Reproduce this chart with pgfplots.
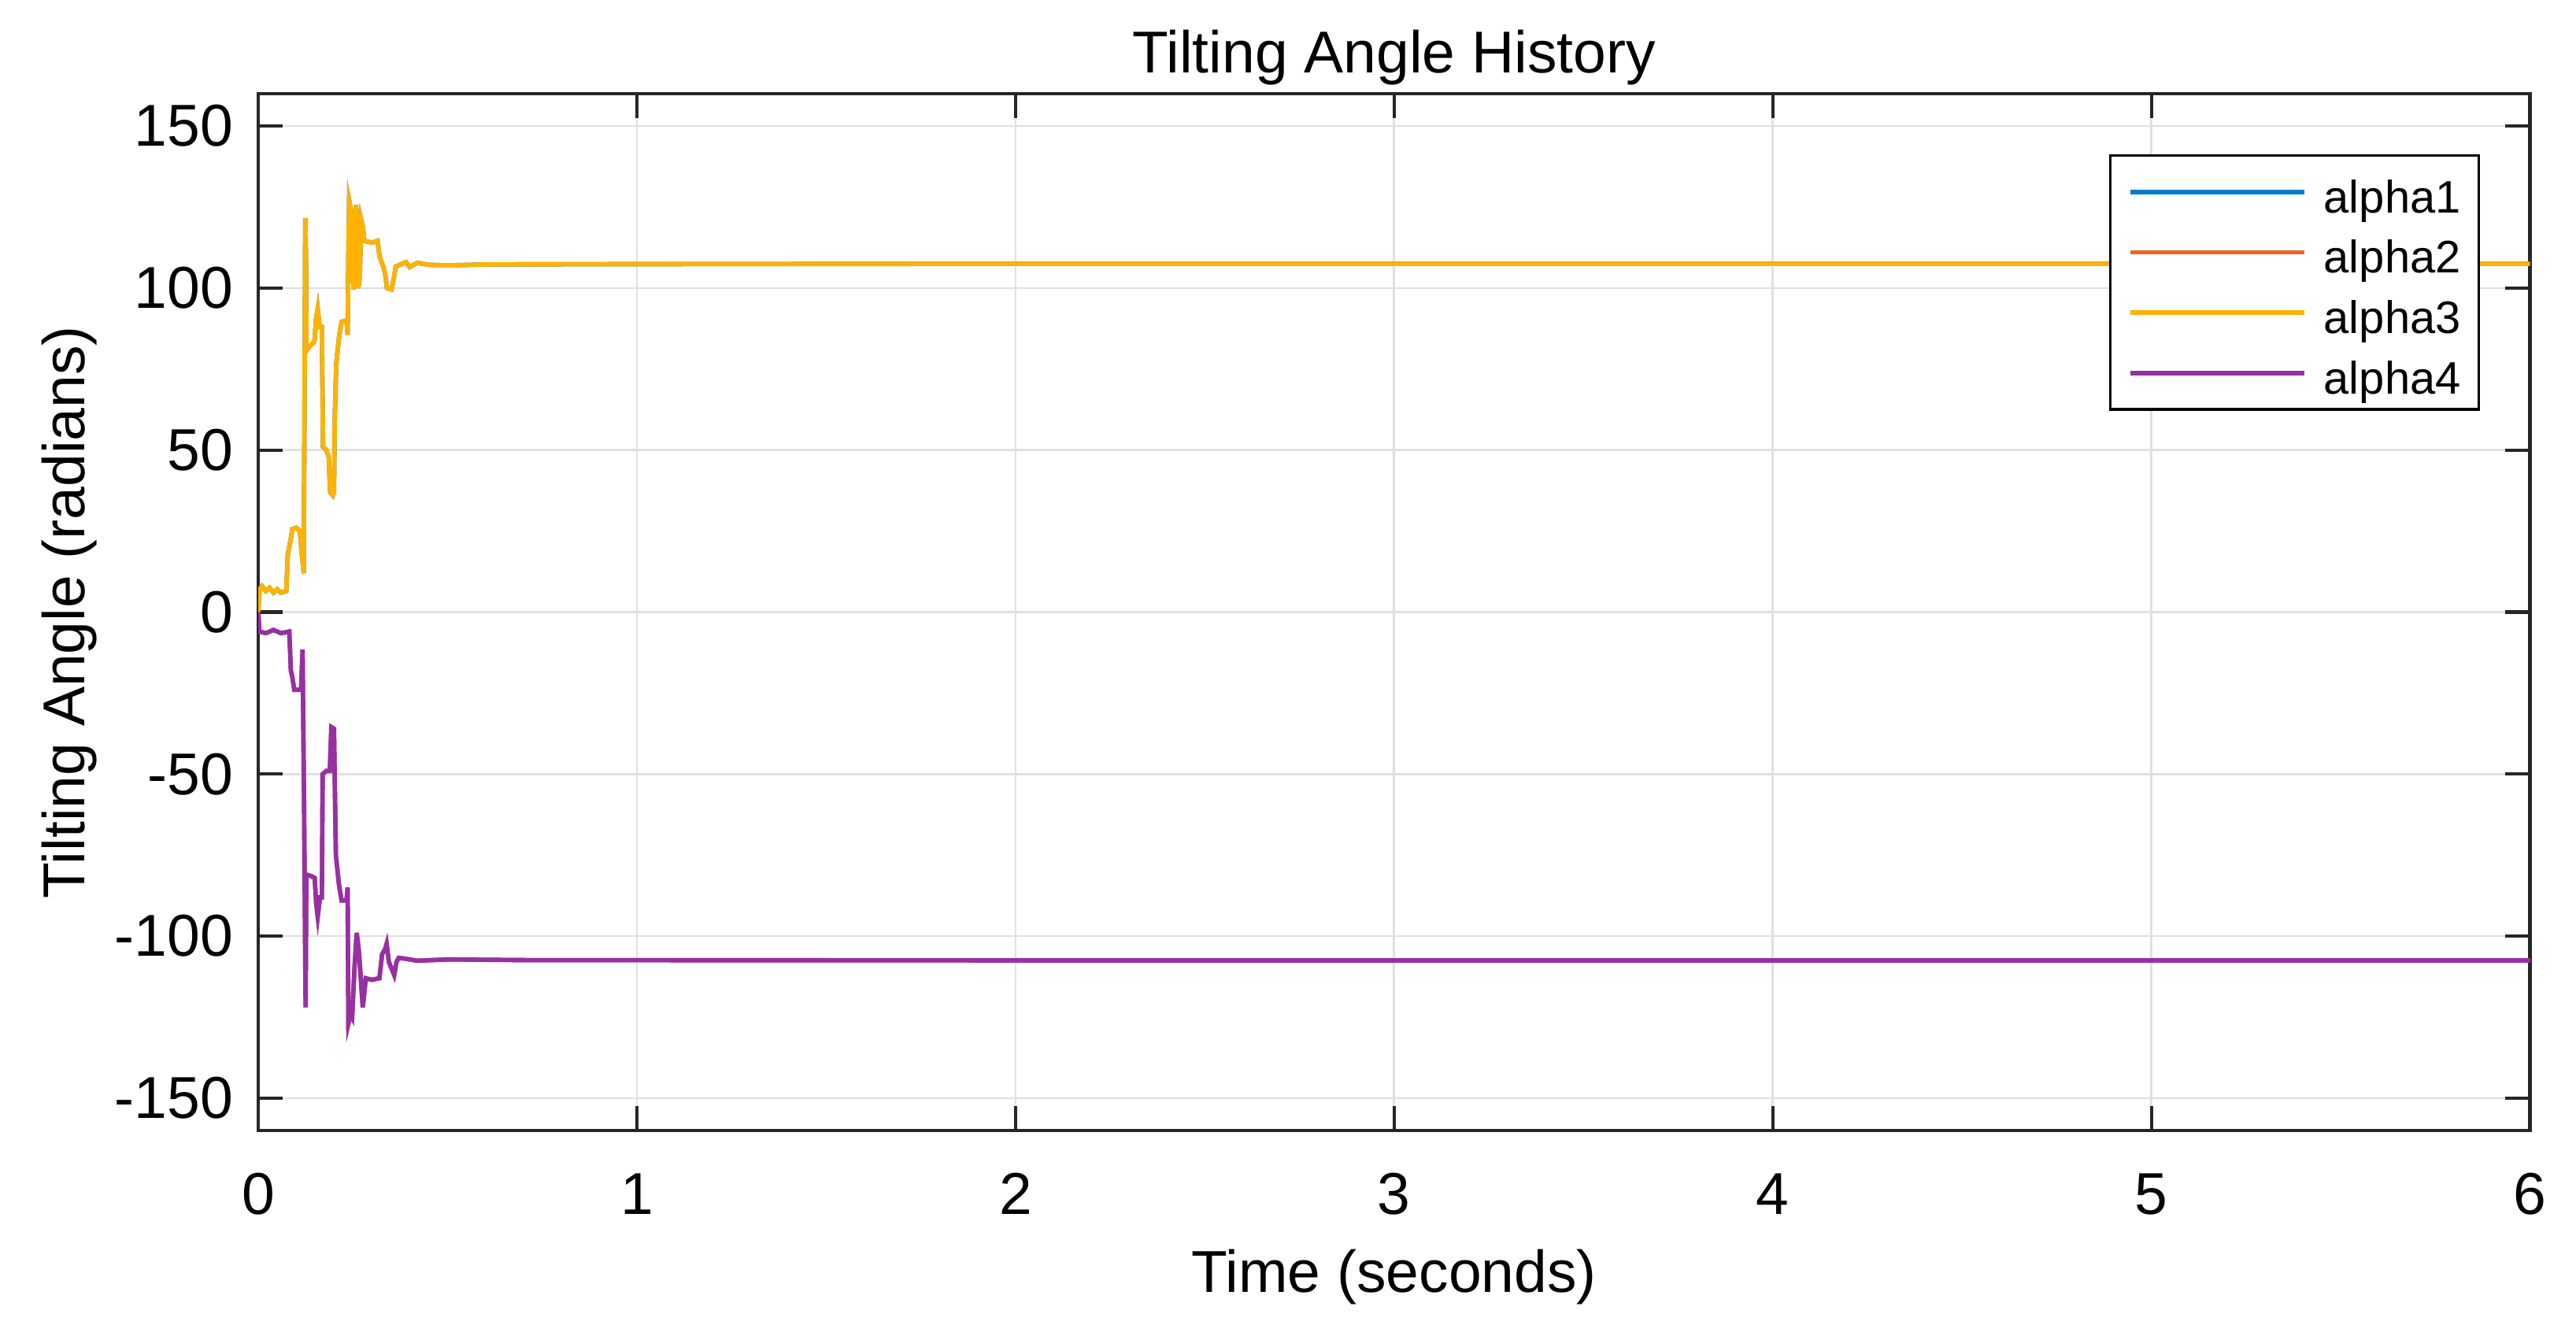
\documentclass[border=0pt]{standalone}
\usepackage{pgfplots}
\pgfplotsset{compat=1.18}
\usepackage{pgfplotstable}
\usepackage{fontspec}
\setmainfont{Liberation Sans}

\definecolor{c1}{RGB}{0,125,205}
\definecolor{c2}{RGB}{245,95,40}
\definecolor{c3}{RGB}{255,178,0}
\definecolor{c4}{RGB}{150,48,165}

% alpha3 (and alpha1, hidden beneath it)
\pgfplotstableread{
t y
0 0
0.003 7
0.01 8
0.02 6.5
0.03 7.5
0.04 6
0.05 7
0.06 6
0.074 6.5
0.078 18
0.085 22
0.09 25.6
0.1 26
0.11 25
0.115 18
0.12 12
0.122 60
0.124 121.6
0.126 110
0.127 80.6
0.135 82
0.145 83
0.149 84
0.152 90
0.157 93.6
0.162 88
0.168 88
0.171 51
0.18 50
0.186 48
0.19 37
0.197 36
0.2 37
0.202 60
0.206 76.6
0.213 84.6
0.22 89.6
0.233 90
0.236 85.6
0.238 110
0.24 127
0.245 124
0.248 105
0.252 99.6
0.255 110
0.258 125.6
0.262 119.6
0.264 100
0.268 103
0.272 121
0.276 119
0.28 114.6
0.3 114
0.315 114.6
0.32 110
0.33 106.6
0.335 104.6
0.34 100
0.352 99.6
0.358 103
0.363 106.6
0.38 107.5
0.39 108
0.4 106.5
0.42 107.8
0.45 107.2
0.5 107
0.6 107.3
1.0 107.4
2.0 107.5
6.0 107.5
}\alphaup

% alpha4 (and alpha2, hidden beneath it)
\pgfplotstableread{
t y
0 0
0.003 -6
0.02 -6.5
0.04 -5.5
0.06 -6.5
0.082 -6
0.086 -18
0.09 -20
0.095 -24
0.113 -24
0.117 -11.6
0.121 -60
0.125 -122
0.127 -81
0.14 -81.5
0.149 -82
0.153 -90
0.157 -94
0.163 -88
0.168 -88
0.17 -50
0.18 -49
0.189 -49
0.193 -35.5
0.2 -36
0.205 -75
0.213 -84
0.22 -89
0.233 -89
0.236 -85
0.238 -127
0.244 -124
0.248 -125
0.254 -110
0.26 -99
0.266 -105
0.276 -122
0.284 -113
0.3 -113.5
0.32 -113
0.327 -105.6
0.335 -104
0.339 -102.4
0.345 -108
0.359 -112
0.365 -108
0.371 -106.7
0.39 -107
0.42 -107.6
0.5 -107.2
0.7 -107.4
2.0 -107.5
6.0 -107.5
}\alphadown

\begin{document}
\begin{tikzpicture}
\path[use as bounding box] (-61.2pt,-45.1pt) rectangle (549.2pt,267.9pt);
\begin{axis}[
  at={(0,0)}, anchor=south west,
  scale only axis,
  width=538.3pt, height=245.7pt,
  xmin=0, xmax=6, ymin=-160, ymax=160,
  xtick={0,1,2,3,4,5,6},
  ytick={-150,-100,-50,0,50,100,150},
  /pgf/number format/assume math mode=true,
  font=\fontsize{14}{16}\selectfont,
  tick label style={font=\fontsize{14}{16}\selectfont},
  xticklabel style={anchor=base, yshift=-19.8pt, inner sep=0pt},
  yticklabel style={anchor=east, xshift=-5.8pt, inner sep=0pt},
  title={Tilting Angle History},
  title style={at={(axis description cs:0.5,1)}, anchor=base, yshift=-1.15pt, inner sep=0pt},
  xlabel={Time (seconds)},
  xlabel style={at={(axis description cs:0.5,0)}, anchor=base, yshift=-38.4pt, inner sep=0pt},
  ylabel={Tilting Angle (radians)},
  ylabel style={at={(axis description cs:-0.0765,0.5)}, rotate=0, anchor=base, inner sep=0pt},
  grid=major,
  major grid style={color=black!12, line width=0.5pt},
  tick align=inside,
  xtick pos=both, ytick pos=both,
  major tick length=5.8pt,
  tick style={color=black!85, line width=0.8pt},
  axis line style={color=black!85, line width=0.8pt},
  legend cell align=left,
  legend image code/.code={\draw[#1] (0pt,0pt) -- (41.3pt,0pt);},
  legend style={at={(axis description cs:1,1)}, anchor=north east,
    xshift=-11.9pt, yshift=-14.4pt,
    draw=black, line width=0.6pt, fill=white,
    font=\fontsize{10.8}{13}\selectfont,
    inner xsep=4.2pt, inner ysep=0pt,
    column sep=4.1pt, row sep=-2.9pt,
    nodes={inner sep=0pt, text height=13.5pt, text depth=3.7pt}},
]
\addplot[c1, line width=1.05pt] table[x=t, y=y] {\alphaup};
\addlegendentry{alpha1}
\addplot[c2, line width=1.05pt] table[x=t, y=y] {\alphadown};
\addlegendentry{alpha2}
\addplot[c3, line width=1.05pt] table[x=t, y=y] {\alphaup};
\addlegendentry{alpha3}
\addplot[c4, line width=1.05pt] table[x=t, y=y] {\alphadown};
\addlegendentry{alpha4}
\end{axis}
\end{tikzpicture}
\end{document}
